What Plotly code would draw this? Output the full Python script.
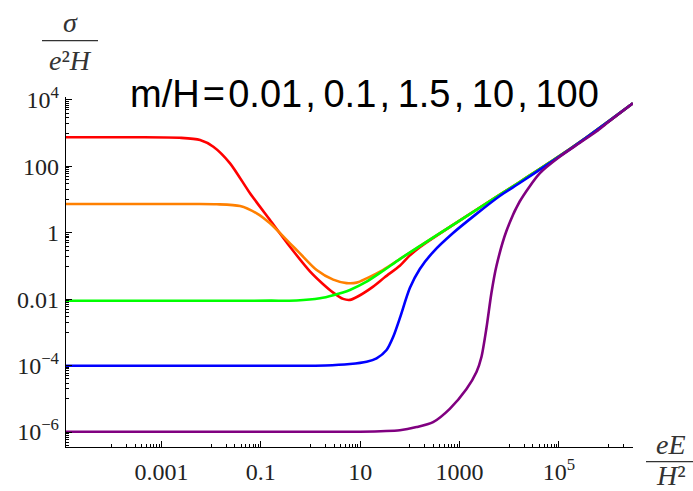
import numpy as np
import plotly.graph_objects as go

# ---- data (log10 of eE/H^2 and log10 of sigma/(e^2 H)) ----
red_lx = [-4.92, -3.5, -2.6, -2.222, -1.955, -1.619, -1.217, -0.815, -0.413, -0.011, 0.25,
          0.457, 0.658, 0.793, 0.96, 1.261, 1.5, 1.798, 2.0, 2.2, 2.869, 3.541, 4.21, 4.879,
          5.551, 6.019, 6.487]
red_ly = [2.877, 2.877, 2.86, 2.795, 2.593, 2.093, 1.19, 0.386, -0.419, -1.16, -1.54,
          -1.80, -1.99, -2.02, -1.91, -1.62, -1.33, -0.99, -0.68, -0.43, 0.24, 0.89, 1.53, 2.18,
          2.87, 3.38, 3.901]

orange_lx = [-4.92, -3.5, -2.3, -1.886, -1.418, -1.082, -0.815, -0.413, -0.212, 0.124, 0.457,
             0.727, 0.928, 1.129, 1.456, 1.798, 2.2, 2.869, 3.541, 4.21, 4.879, 5.551, 6.019, 6.487]
orange_ly = [0.867, 0.867, 0.867, 0.86, 0.807, 0.587, 0.286, -0.316, -0.62, -1.12, -1.41,
             -1.515, -1.50, -1.37, -1.12, -0.79, -0.40, 0.24, 0.89, 1.53, 2.18, 2.87, 3.38, 3.901]

green_lx = [-4.92, -2.0, -0.8, -0.278, 0.19, 0.457, 0.793, 1.129, 1.456, 1.798, 2.2, 2.869,
            3.541, 4.21, 4.879, 5.551, 6.019, 6.487]
green_ly = [-2.045, -2.045, -2.043, -2.04, -1.973, -1.88, -1.72, -1.473, -1.15, -0.79, -0.40,
            0.24, 0.89, 1.53, 2.18, 2.87, 3.38, 3.901]

blue_lx = [-4.92, -1.0, 0.3, 0.793, 1.129, 1.33, 1.531, 1.663, 1.798, 1.999, 2.2, 2.467, 2.869,
           3.34, 3.808, 4.21, 4.879, 5.551, 6.019, 6.487]
blue_ly = [-4.003, -4.003, -3.995, -3.952, -3.883, -3.78, -3.53, -3.139, -2.57, -1.663, -1.09,
           -0.578, -0.006, 0.57, 1.11, 1.50, 2.165, 2.865, 3.378, 3.901]

purple_lx = [-4.92, 0.0, 1.0, 1.798, 2.134, 2.467, 2.803, 3.139, 3.34, 3.44, 3.541, 3.641, 3.742,
             3.943, 4.21, 4.612, 5.014, 5.416, 5.752, 6.019, 6.487]
purple_ly = [-5.991, -5.991, -5.99, -5.945, -5.85, -5.70, -5.30, -4.705, -4.193, -3.741, -2.867,
             -1.813, -1.0, 0.054, 0.943, 1.792, 2.292, 2.705, 3.051, 3.367, 3.901]

series = [
    ("m/H=0.01", red_lx, red_ly, "#ff0000"),
    ("m/H=0.1", orange_lx, orange_ly, "#ff8000"),
    ("m/H=1.5", green_lx, green_ly, "#00ff00"),
    ("m/H=10", blue_lx, blue_ly, "#0000ff"),
    ("m/H=100", purple_lx, purple_ly, "#800080"),
]

x_tickvals = [1e-3, 1e-1, 1e1, 1e3, 1e5]
x_ticktext = ["0.001", "0.1", "10", "1000", "10<sup>5</sup>"]
y_tickvals = [1e-6, 1e-4, 1e-2, 1, 1e2, 1e4]
y_ticktext = ["10<sup>\u22126</sup>", "10<sup>\u22124</sup>", "0.01", "1", "100", "10<sup>4</sup>"]

# minor ticks (Mathematica style): m*10^k for the decade below each major
x_minor = [m * 10.0 ** k for k in range(-6, 7, 2) for m in range(1, 10)]
y_minor = [m * 10.0 ** k for k in range(-7, 5, 2) for m in range(1, 10)]

fig = go.Figure()
for name, lx, ly, col in series:
    fig.add_trace(go.Scatter(
        x=10.0 ** np.array(lx), y=10.0 ** np.array(ly), mode="lines", name=name,
        line=dict(color=col, width=2.6, shape="spline", smoothing=0.7),
        showlegend=False, hoverinfo="skip"))

W, H = 693, 491
L, R, T, B = 66, 60, 97, 44
pw, ph = W - L - R, H - T - B


def px(x):
    return (x - L) / pw


def py(y):
    return (H - B - y) / ph


tickfont = dict(family="Liberation Serif", size=24, color="#222")
fig.update_layout(
    width=W, height=H, margin=dict(l=L, r=R, t=T, b=B, autoexpand=False),
    paper_bgcolor="white", plot_bgcolor="white",
    xaxis=dict(type="log", range=[-4.92, 6.49], showgrid=False, zeroline=False, automargin=False,
               showline=True, linecolor="black", linewidth=1.4,
               ticks="inside", ticklen=6, tickcolor="black", tickwidth=1.2,
               tickmode="array", tickvals=x_tickvals, ticktext=x_ticktext,
               tickfont=tickfont, ticklabelstandoff=3,
               minor=dict(tickmode="array", tickvals=x_minor, ticks="inside",
                          ticklen=3, tickcolor="black", tickwidth=0.8)),
    yaxis=dict(type="log", range=[-6.45, 4.09], showgrid=False, zeroline=False, automargin=False,
               showline=True, linecolor="black", linewidth=1.4,
               ticks="inside", ticklen=6, tickcolor="black", tickwidth=1.2,
               tickmode="array", tickvals=y_tickvals, ticktext=y_ticktext,
               tickfont=tickfont, ticklabelstandoff=1,
               minor=dict(tickmode="array", tickvals=y_minor, ticks="inside",
                          ticklen=3, tickcolor="black", tickwidth=0.8)),
)

labfont = dict(family="Liberation Serif", size=28, color="#333")
ann = [
    dict(text="<i>σ</i>", x=px(70), y=py(22)),
    dict(text="<i>e</i>\u00b2<i>H</i>", x=px(70), y=py(60)),
    dict(text="<i>eE</i>", x=px(671), y=py(444)),
    dict(text="<i>H</i>\u00b2", x=px(671), y=py(475)),
]
for a in ann:
    fig.add_annotation(xref="paper", yref="paper", showarrow=False, xanchor="center",
                       yanchor="middle", font=labfont, **a)

fig.add_annotation(xref="paper", yref="paper", x=px(364), y=py(94), showarrow=False,
                   xanchor="center", yanchor="middle",
                   text="m/H\u200a=\u200a0.01\u200a,\u20090.1\u200a,\u20091.5\u200a,\u200910\u200a,\u2009100",
                   font=dict(family="Liberation Sans", size=38, color="black"))

fig.add_shape(type="line", xref="paper", yref="paper", x0=px(42), x1=px(98), y0=py(40.7),
              y1=py(40.7), line=dict(color="#333", width=1.3))
fig.add_shape(type="line", xref="paper", yref="paper", x0=px(646), x1=px(693), y0=py(461.7),
              y1=py(461.7), line=dict(color="#333", width=1.3))

fig.write_html("out.html")
